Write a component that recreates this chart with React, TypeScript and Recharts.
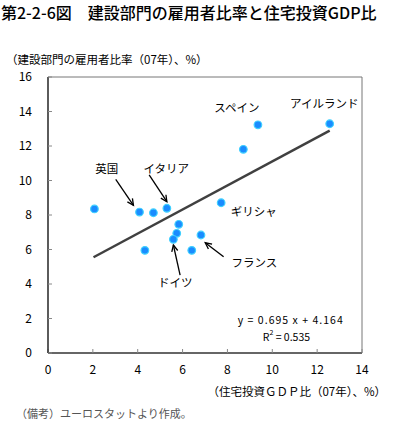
import {
  ReferenceDot,
  ReferenceLine,
  Scatter,
  ScatterChart,
  XAxis,
  YAxis,
} from "recharts";

const JP_FONT = '"Noto Sans CJK JP", "Noto Sans", sans-serif';

// 各国のデータ（住宅投資GDP比, 建設部門の雇用者比率）
const points = [
  { x: 2.07, y: 8.35 },
  { x: 4.08, y: 8.17 },
  { x: 4.7, y: 8.13 },
  { x: 5.3, y: 8.39 },
  { x: 5.83, y: 7.46 },
  { x: 5.74, y: 6.94 },
  { x: 5.59, y: 6.59 },
  { x: 4.32, y: 5.95 },
  { x: 6.41, y: 5.95 },
  { x: 6.82, y: 6.84 },
  { x: 7.72, y: 8.71 },
  { x: 8.71, y: 11.81 },
  { x: 9.36, y: 13.23 },
  { x: 12.56, y: 13.29 },
];

const trendLine = [
  { x: 2.03, y: 5.55 },
  { x: 12.56, y: 12.89 },
];

const xTicks = [0, 2, 4, 6, 8, 10, 12, 14];
const yTicks = [0, 2, 4, 6, 8, 10, 12, 14, 16];

const countryLabels = [
  { name: "英国", x: 2.62, y: 10.7 },
  { name: "イタリア", x: 5.27, y: 10.7 },
  { name: "スペイン", x: 8.42, y: 14.24 },
  { name: "アイルランド", x: 12.32, y: 14.47 },
  { name: "ギリシャ", x: 9.17, y: 8.25 },
  { name: "フランス", x: 9.2, y: 5.26 },
  { name: "ドイツ", x: 5.67, y: 4.13 },
];

// 矢印（始点 → 終点）
const arrows = [
  { from: { x: 3.02, y: 10.07 }, to: { x: 3.81, y: 8.56 } },
  { from: { x: 4.51, y: 10.32 }, to: { x: 5.3, y: 8.77 } },
  { from: { x: 5.89, y: 4.52 }, to: { x: 5.59, y: 6.26 } },
  { from: { x: 7.83, y: 5.58 }, to: { x: 7.01, y: 6.39 } },
];

const equation = "y = 0.695 x + 4.164";
const rSquared = "0.535";

function Dot(props: any) {
  const { cx, cy } = props;
  return <circle cx={cx} cy={cy} r={3.8} fill="#1a8cff" stroke="#3fd0ff" strokeWidth={1.2} />;
}

function Arrow(props: any) {
  const { x1, y1, x2, y2 } = props;
  if ([x1, y1, x2, y2].some((v) => typeof v !== "number")) return <g />;
  const a = Math.atan2(y2 - y1, x2 - x1);
  const len = 7;
  const w = 0.45;
  const p1 = [x2 - len * Math.cos(a - w), y2 - len * Math.sin(a - w)];
  const p2 = [x2 - len * Math.cos(a + w), y2 - len * Math.sin(a + w)];
  return (
    <g>
      <line x1={x1} y1={y1} x2={x2} y2={y2} stroke="#000" strokeWidth={1.3} />
      <polyline
        points={`${p1[0]},${p1[1]} ${x2},${y2} ${p2[0]},${p2[1]}`}
        fill="none"
        stroke="#000"
        strokeWidth={1.3}
      />
    </g>
  );
}

function TextAt({ cx, cy, text }: any) {
  return (
    <text
      x={cx}
      y={cy}
      textAnchor="middle"
      dominantBaseline="central"
      fontSize={11.5}
      fontFamily={JP_FONT}
      fill="#000"
    >
      {text}
    </text>
  );
}

export default function App() {
  return (
    <div
      style={{
        position: "absolute",
        left: 0,
        top: 0,
        width: 400,
        height: 421,
        background: "#fff",
        fontFamily: JP_FONT,
        overflow: "hidden",
      }}
    >
      <div
        style={{
          position: "absolute",
          left: 1,
          top: 3,
          fontSize: 16,
          lineHeight: "18px",
          whiteSpace: "nowrap",
          color: "#000",
          fontWeight: 500,
        }}
      >
        第2-2-6図　建設部門の雇用者比率と住宅投資GDP比
      </div>
      <div
        style={{
          position: "absolute",
          left: 6,
          top: 52,
          fontSize: 11.5,
          lineHeight: "14px",
          whiteSpace: "nowrap",
        }}
      >
        （建設部門の雇用者比率（07年）、%）
      </div>
      <ScatterChart
        width={400}
        height={421}
        margin={{ top: 77, right: 38, bottom: 48, left: 8 }}
        style={{ position: "absolute", left: 0, top: 0 }}
      >
        <XAxis
          type="number"
          dataKey="x"
          domain={[0, 14]}
          ticks={xTicks}
          height={20}
          tickSize={-4}
          tickMargin={16}
          axisLine={{ stroke: "#333", strokeWidth: 1.6 }}
          tickLine={{ stroke: "#888" }}
          tick={{ fontSize: 12, fill: "#000", fontFamily: JP_FONT }}
          allowDataOverflow
        />
        <YAxis
          type="number"
          dataKey="y"
          domain={[0, 16]}
          ticks={yTicks}
          width={40}
          tickSize={-4}
          tickMargin={20}
          axisLine={{ stroke: "#333", strokeWidth: 1.6 }}
          tickLine={{ stroke: "#888" }}
          tick={{ fontSize: 12, fill: "#000", fontFamily: JP_FONT }}
          allowDataOverflow
        />
        <ReferenceLine y={16} stroke="#777" strokeWidth={1} />
        <ReferenceLine x={14} stroke="#777" strokeWidth={1} />
        <ReferenceLine
          segment={trendLine}
          stroke="#404040"
          strokeWidth={2.5}
        />
        {arrows.map((a, i) => (
          <ReferenceLine key={`arrow-${i}`} segment={[a.from, a.to]} shape={Arrow} />
        ))}
        <Scatter data={points} shape={Dot} isAnimationActive={false} />
        {countryLabels.map((c) => (
          <ReferenceDot
            key={c.name}
            x={c.x}
            y={c.y}
            r={0}
            shape={(p: any) => <TextAt cx={p.cx} cy={p.cy} text={c.name} />}
          />
        ))}
        <ReferenceDot
          x={10.8}
          y={1.95}
          r={0}
          shape={(p: any) => (
            <text
              x={p.cx}
              y={p.cy}
              textAnchor="middle"
              dominantBaseline="central"
              fontSize={10.5}
              fontFamily={JP_FONT}
              textLength={105}
              lengthAdjust="spacing"
            >
              {equation}
            </text>
          )}
        />
        <ReferenceDot
          x={10.63}
          y={0.98}
          r={0}
          shape={(p: any) => (
            <text
              x={p.cx}
              y={p.cy}
              textAnchor="middle"
              dominantBaseline="central"
              fontSize={10.5}
              fontFamily={JP_FONT}
            >
              R<tspan fontSize={7} dy={-4}>2</tspan>
              <tspan dy={4}>{` = ${rSquared}`}</tspan>
            </text>
          )}
        />
      </ScatterChart>
      <div
        style={{
          position: "absolute",
          right: 14,
          top: 384,
          fontSize: 11.5,
          lineHeight: "14px",
          whiteSpace: "nowrap",
        }}
      >
        （住宅投資ＧＤＰ比（07年）、%）
      </div>
      <div
        style={{
          position: "absolute",
          left: 16,
          top: 407,
          fontSize: 11,
          lineHeight: "13px",
          color: "#555",
          whiteSpace: "nowrap",
        }}
      >
        （備考）ユーロスタットより作成。
      </div>
    </div>
  );
}
